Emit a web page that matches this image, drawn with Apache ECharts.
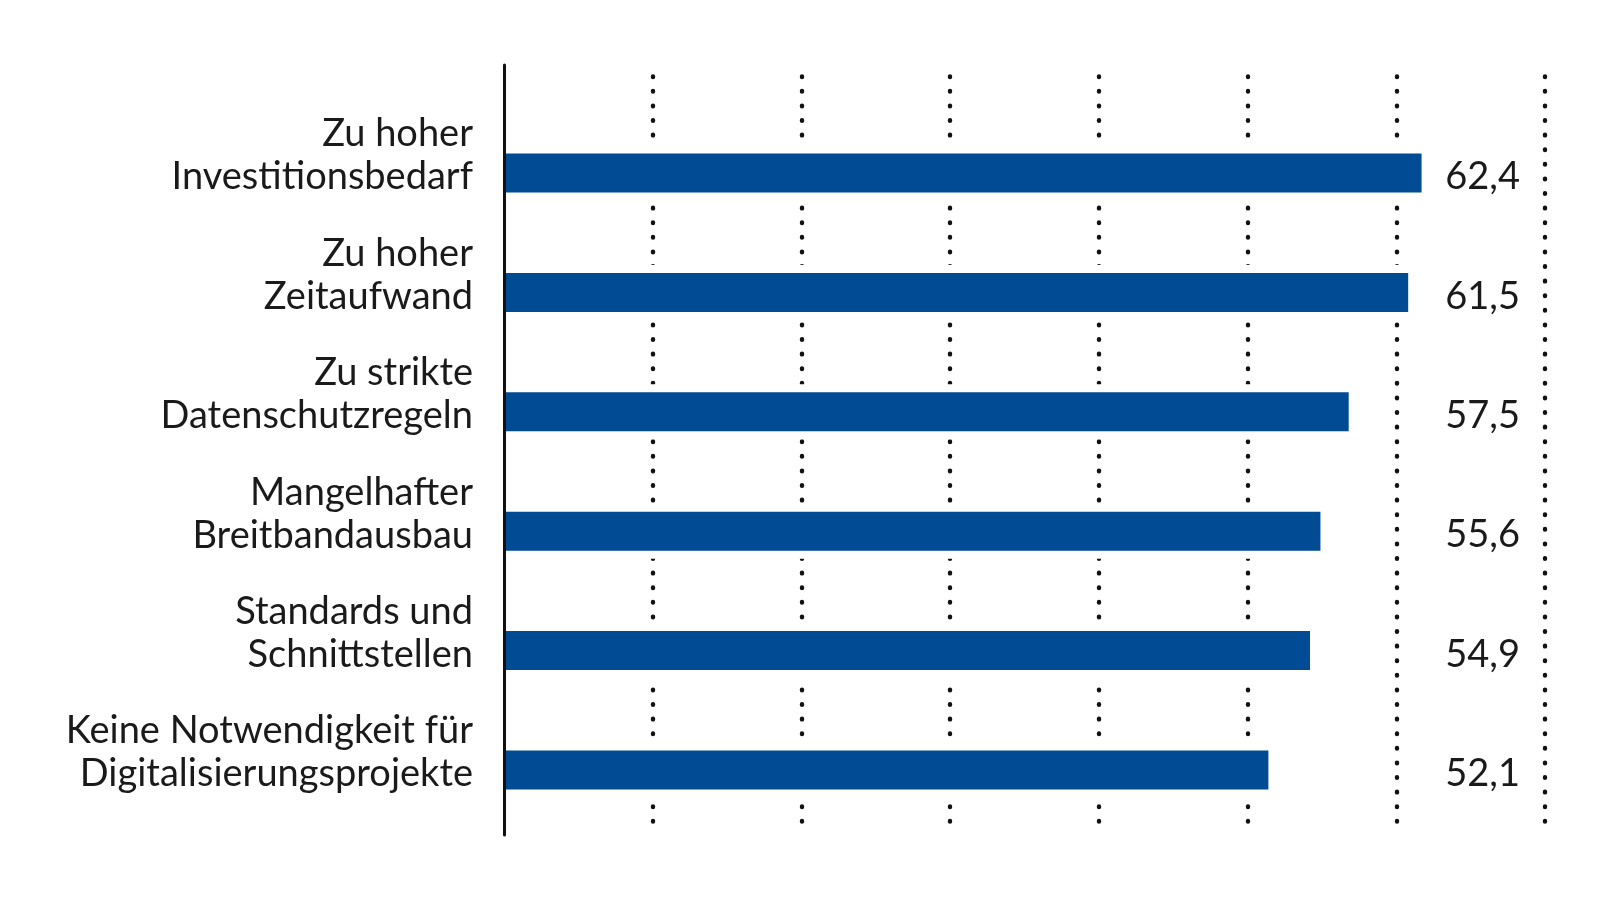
<!DOCTYPE html>
<html><head><meta charset="utf-8">
<script src="https://cdn.jsdelivr.net/npm/echarts@6/dist/echarts.min.js"></script>
<style>html,body{margin:0;padding:0;background:#fff}#c{width:1600px;height:899px}</style>
</head><body><div id="c"></div>
<script>
// ---- data ----
const categories = [
  'Zu hoher\nInvestitionsbedarf',
  'Zu hoher\nZeitaufwand',
  'Zu strikte\nDatenschutzregeln',
  'Mangelhafter\nBreitbandausbau',
  'Standards und\nSchnittstellen',
  'Keine Notwendigkeit für\nDigitalisierungsprojekte'
];
const values = [62.4, 61.5, 57.5, 55.6, 54.9, 52.1];
const gridMin = 0, gridMax = 70, gridStep = 10;

// ---- chart ----
const fmt = v => v.toFixed(1).replace('.', ',');
const FONT = 'Lato, "Noto Sans", sans-serif';
const TXT = '#1a1a1a';
const hiddenX = (g) => ({ gridIndex: g, type: 'value', min: 0, max: 1, show: false });
const catAxis = (g, extra) => Object.assign({
  gridIndex: g, type: 'category', data: categories, inverse: true,
  axisLine: { show: false }, axisTick: { show: false }, splitLine: { show: false }
}, extra);
const chart = echarts.init(document.getElementById('c'));
chart.setOption({
  animation: false,
  backgroundColor: '#ffffff',
  grid: [
    { left: 504, right: 55, top: 65, bottom: 64 },        // gridlines + axis line
    { left: 504, right: 55, top: 113.3, bottom: 69.3 },   // bars
    { left: 504, right: 55, top: 95.9, bottom: 86.7 },    // category labels
    { left: 504, right: 55, top: 117.3, bottom: 65.3 }    // value labels
  ],
  xAxis: [
    {
      gridIndex: 0, type: 'value', min: gridMin, max: gridMax, interval: gridStep,
      axisLine: { show: false }, axisTick: { show: false }, axisLabel: { show: false },
      splitLine: {
        show: true, showMinLine: false, showMaxLine: true,
        lineStyle: { color: '#111', width: 4.4, type: [0.6, 14.0], cap: 'round', dashOffset: 3.2 }
      }
    },
    { gridIndex: 1, type: 'value', min: 0.7, max: 70.7, show: false },
    hiddenX(2),
    hiddenX(3)
  ],
  yAxis: [
    {
      gridIndex: 0, type: 'value', min: 0, max: 1, z: 10,
      axisLine: { show: true, lineStyle: { color: '#111', width: 3 } },
      axisTick: { show: false }, axisLabel: { show: false }, splitLine: { show: false }
    },
    catAxis(1, { axisLabel: { show: false } }),
    catAxis(1, { axisLabel: { show: false }, position: 'right' }),
    catAxis(2, {
      axisLabel: {
        interval: 0, showMinLabel: true, showMaxLabel: true, hideOverlap: false,
        fontFamily: FONT, fontSize: 38, lineHeight: 43, color: TXT,
        margin: 31, align: 'right'
      }
    }),
    catAxis(3, {
      position: 'right',
      axisLabel: {
        interval: 0, showMinLabel: true, showMaxLabel: true, hideOverlap: false,
        fontFamily: FONT, fontSize: 38, color: TXT, margin: -25, align: 'right',
        formatter: (v, i) => fmt(values[i])
      }
    })
  ],
  series: [
    {
      type: 'bar', xAxisIndex: 1, yAxisIndex: 2, data: values, barWidth: 55, z: 1, silent: true,
      itemStyle: { color: '#ffffff' }
    },
    {
      type: 'bar', xAxisIndex: 1, yAxisIndex: 1, data: values, barWidth: 39, z: 2,
      itemStyle: { color: '#004B93' }
    }
  ]
});
</script>
</body></html>
